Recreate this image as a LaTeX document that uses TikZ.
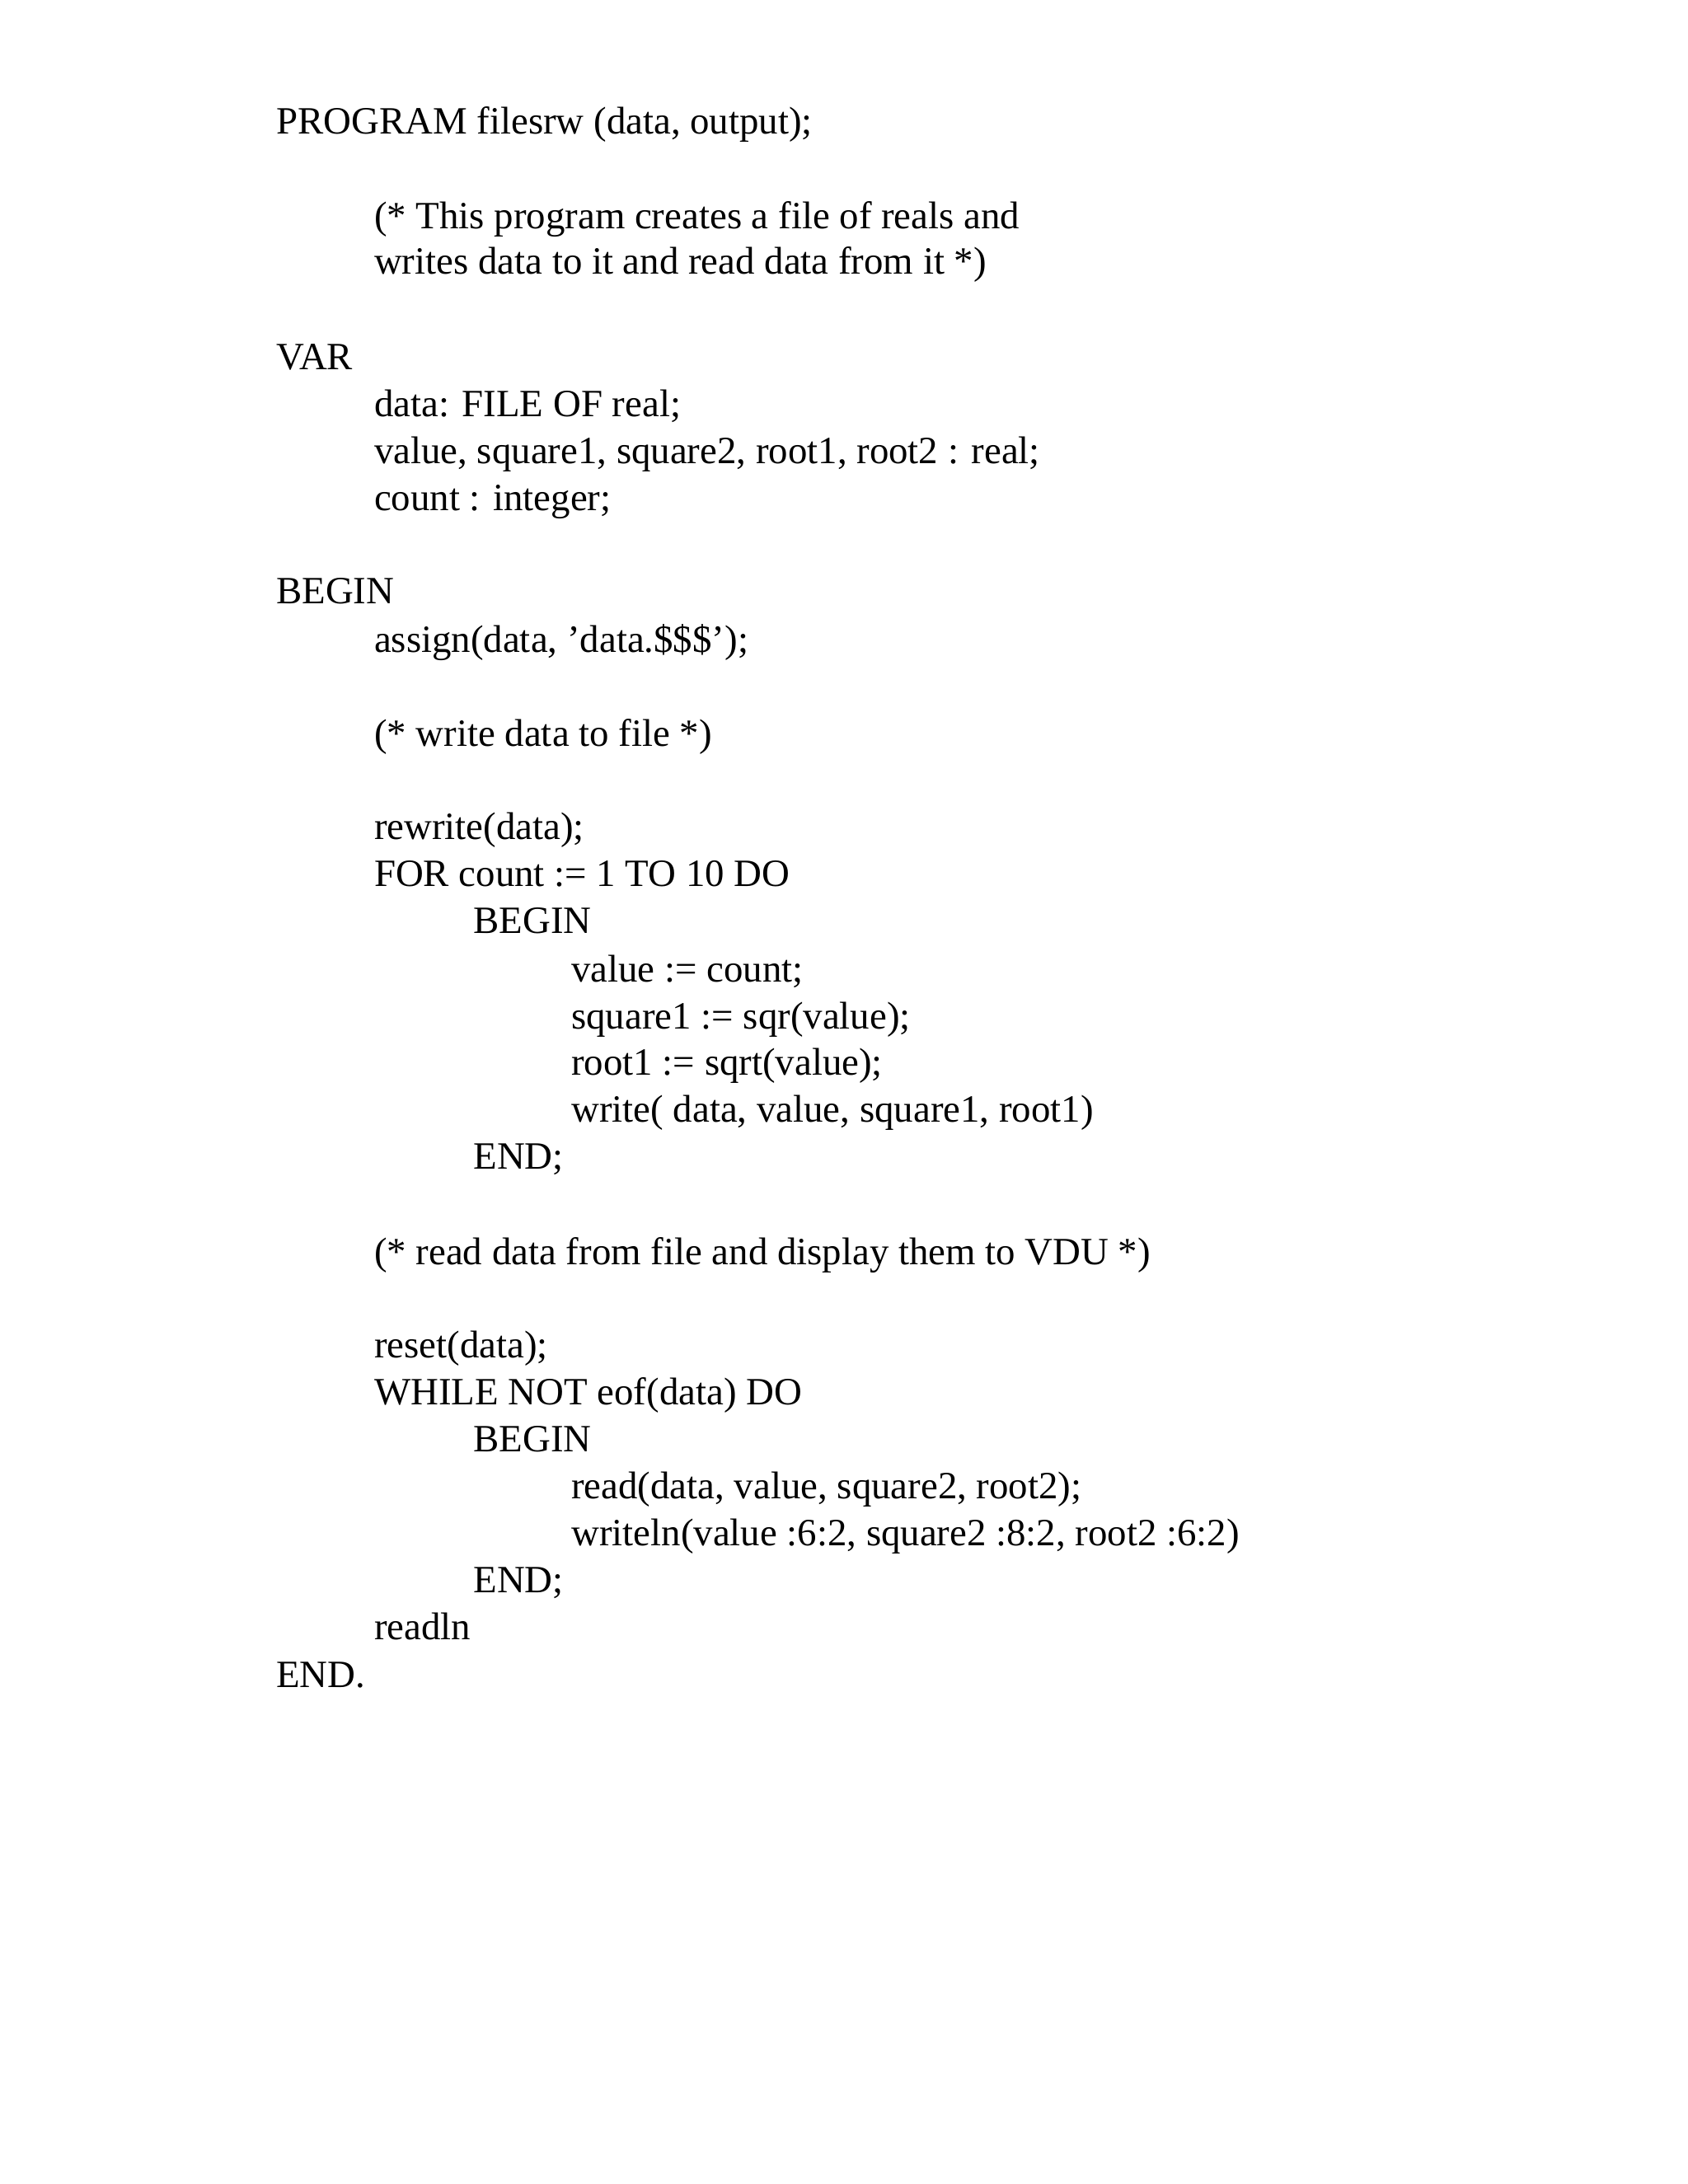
\documentclass[tikz,border=0pt]{standalone}
\usepackage{fontspec}
\setmainfont{Liberation Serif}
\begin{document}
\begin{tikzpicture}[x=1pt,y=1pt,code/.style={anchor=base west,inner sep=0pt,font=\fontsize{14}{17}\selectfont}]
\useasboundingbox (0,0) rectangle (612,-792);
\newcommand{\codeln}[4]{\node[code] (#1) at (#2,{-(#3+9)/2}) {#4};}
\codeln{l1}{100}{88}{PROGRAM filesrw (data, output);}
\codeln{l2}{135.5}{157}{(* This program creates a file of reals and}
\codeln{l3}{135.5}{190}{writes data to it and read data from it *)}
\codeln{l4}{100}{259}{VAR}
\codeln{l5}{135.5}{293}{data: FILE OF real;}
\codeln{l6}{135.5}{327}{value, square1, square2, root1, root2 : real;}
\codeln{l7}{135.5}{361}{count : integer;}
\codeln{l8}{100}{429}{BEGIN}
\codeln{l9}{135.5}{464}{assign(data, 'data.\$\$\$');}
\codeln{l10}{135.5}{532}{(* write data to file *)}
\codeln{l11}{135.5}{600}{rewrite(data);}
\codeln{l12}{135.5}{634}{FOR count := 1 TO 10 DO}
\codeln{l13}{171.5}{668}{BEGIN}
\codeln{l14}{207}{703}{value := count;}
\codeln{l15}{207}{737}{square1 := sqr(value);}
\codeln{l16}{207}{771}{root1 := sqrt(value);}
\codeln{l17}{207}{805}{write( data, value, square1, root1)}
\codeln{l18}{171.5}{839}{END;}
\codeln{l19}{135.5}{908}{(* read data from file and display them to VDU *)}
\codeln{l20}{135.5}{976}{reset(data);}
\codeln{l21}{135.5}{1010}{WHILE NOT eof(data) DO}
\codeln{l22}{171.5}{1044}{BEGIN}
\codeln{l23}{207}{1078}{read(data, value, square2, root2);}
\codeln{l24}{207}{1112}{writeln(value :6:2, square2 :8:2, root2 :6:2)}
\codeln{l25}{171.5}{1146}{END;}
\codeln{l26}{135.5}{1180}{readln}
\codeln{l27}{100}{1215}{END.}
\end{tikzpicture}
\end{document}
